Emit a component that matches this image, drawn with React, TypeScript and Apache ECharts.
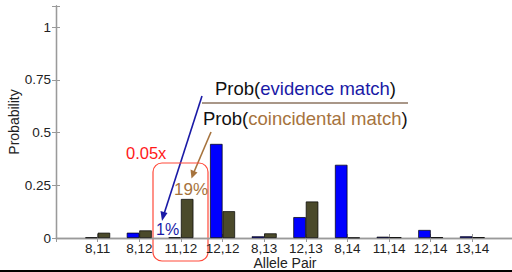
import React, { useEffect, useRef } from "react";
import * as echarts from "echarts";

const categories = ["8,11", "8,12", "11,12", "12,12", "8,13", "12,13", "8,14", "11,14", "12,14", "13,14"];
const evidenceMatch = [0.003, 0.025, 0.003, 0.446, 0.008, 0.099, 0.347, 0.006, 0.038, 0.008];
const coincidentalMatch = [0.025, 0.036, 0.185, 0.127, 0.022, 0.173, 0.002, 0.004, 0.004, 0.004];
const yTicks = [0, 0.25, 0.5, 0.75, 1];

const FONT = "Liberation Sans, Arial, sans-serif";
const BLUE_TXT = "#1a1aa6";
const BROWN_TXT = "#a6733d";

export default function App() {
  const ref = useRef<HTMLDivElement>(null);
  useEffect(() => {
    if (!ref.current) return;
    const chart = echarts.init(ref.current, null, { renderer: "svg" });
    const axisLine = { show: true, lineStyle: { color: "#9a9a9a", width: 1.3 } };
    const tickStyle = { show: true, inside: true, length: 4, lineStyle: { color: "#9a9a9a", width: 1 } };
    chart.setOption({
      animation: false,
      textStyle: { fontFamily: FONT },
      grid: { left: 56, right: -2, top: 6, bottom: 34, containLabel: false, outerBoundsMode: "none" },
      xAxis: [
        {
          type: "value",
          min: 0,
          max: categories.length + 1,
          interval: 1,
          position: "bottom",
          axisLine,
          axisTick: tickStyle,
          splitLine: { show: false },
          axisLabel: {
            color: "#222",
            fontSize: 13.5,
            fontFamily: FONT,
            margin: 3,
            formatter: (v: number) => (v >= 1 && v <= categories.length ? categories[v - 1] : ""),
          },
          name: "Allele Pair",
          nameLocation: "middle",
          nameGap: 18,
          nameMoveOverlap: false,
          nameTextStyle: { color: "#222", fontSize: 14, fontFamily: FONT },
        },
        {
          type: "value",
          min: 0,
          max: categories.length + 1,
          interval: 1,
          position: "top",
          axisLine,
          axisTick: tickStyle,
          axisLabel: { show: false },
          splitLine: { show: false },
        },
      ],
      yAxis: [
        {
          type: "value",
          min: 0,
          max: 1.1,
          interval: 0.25,
          position: "left",
          axisLine,
          axisTick: tickStyle,
          splitLine: { show: false },
          axisLabel: {
            color: "#222",
            fontSize: 13.5,
            fontFamily: FONT,
            margin: 5,
            formatter: (v: number) => (yTicks.includes(v) ? String(v) : ""),
          },
          name: "Probability",
          nameLocation: "middle",
          nameGap: 35,
          nameMoveOverlap: false,
          nameRotate: 90,
          nameTextStyle: { color: "#222", fontSize: 14, fontFamily: FONT },
        },
        {
          type: "value",
          min: 0,
          max: 1.1,
          interval: 0.25,
          position: "right",
          axisLine,
          axisTick: tickStyle,
          axisLabel: { show: false },
          splitLine: { show: false },
        },
      ],
      series: [
        {
          type: "bar",
          name: "evidence",
          data: evidenceMatch.map((v, i) => [i + 1, v]),
          barWidth: 12.5,
          barGap: "0%",
          itemStyle: { color: "#0000ff", borderColor: "#000", borderWidth: 0.7 },
        },
        {
          type: "bar",
          name: "coincidental",
          data: coincidentalMatch.map((v, i) => [i + 1, v]),
          barWidth: 12.5,
          barGap: "0%",
          itemStyle: { color: "#4b4a2b", borderColor: "#000", borderWidth: 0.7 },
        },
      ],
      graphic: [
        {
          type: "text",
          x: 215,
          y: 88,
          style: {
            rich: {
              k: { fill: "#111", fontSize: 18.5, fontFamily: FONT },
              b: { fill: BLUE_TXT, fontSize: 18.5, fontFamily: FONT },
            },
            text: "{k|Prob(}{b|evidence match}{k|)}",
            verticalAlign: "middle",
          },
        },
        {
          type: "line",
          shape: { x1: 202, y1: 103, x2: 408, y2: 103 },
          style: { stroke: "#8c7560", lineWidth: 1.3 },
        },
        {
          type: "text",
          x: 203,
          y: 118,
          style: {
            rich: {
              k: { fill: "#111", fontSize: 18.5, fontFamily: FONT },
              c: { fill: BROWN_TXT, fontSize: 18.5, fontFamily: FONT },
            },
            text: "{k|Prob(}{c|coincidental match}{k|)}",
            verticalAlign: "middle",
          },
        },
        {
          type: "line",
          shape: { x1: 202, y1: 96, x2: 164, y2: 214 },
          style: { stroke: "#1a1aa6", lineWidth: 1.6 },
        },
        {
          type: "polygon",
          shape: { points: [[162, 221], [160.5, 211], [167.5, 213]] },
          style: { fill: "#1a1aa6" },
        },
        {
          type: "line",
          shape: { x1: 211, y1: 132, x2: 194, y2: 172 },
          style: { stroke: "#a6733d", lineWidth: 1.6 },
        },
        {
          type: "polygon",
          shape: { points: [[191.5, 178.5], [190.5, 169.5], [197.5, 172.5]] },
          style: { fill: "#a6733d" },
        },
        {
          type: "text",
          x: 126,
          y: 153,
          style: { text: "0.05x", fill: "#ff1a1a", fontSize: 16.5, fontFamily: FONT, verticalAlign: "middle" },
        },
        {
          type: "rect",
          shape: { x: 153, y: 163, width: 55, height: 98, r: 9 },
          style: { fill: "none", stroke: "#ff4a3a", lineWidth: 1.2 },
        },
        {
          type: "text",
          x: 174,
          y: 189,
          style: { text: "19%", fill: BROWN_TXT, fontSize: 17, fontFamily: FONT, verticalAlign: "middle" },
        },
        {
          type: "text",
          x: 156,
          y: 229,
          style: { text: "1%", fill: BLUE_TXT, fontSize: 16, fontFamily: FONT, verticalAlign: "middle" },
        },
        {
          type: "rect",
          shape: { x: 0, y: 270, width: 512, height: 2 },
          style: { fill: "#000" },
        },
      ],
    });
    return () => chart.dispose();
  }, []);
  return <div ref={ref} style={{ width: 512, height: 272, position: "absolute", left: 0, top: 0 }} />;
}
